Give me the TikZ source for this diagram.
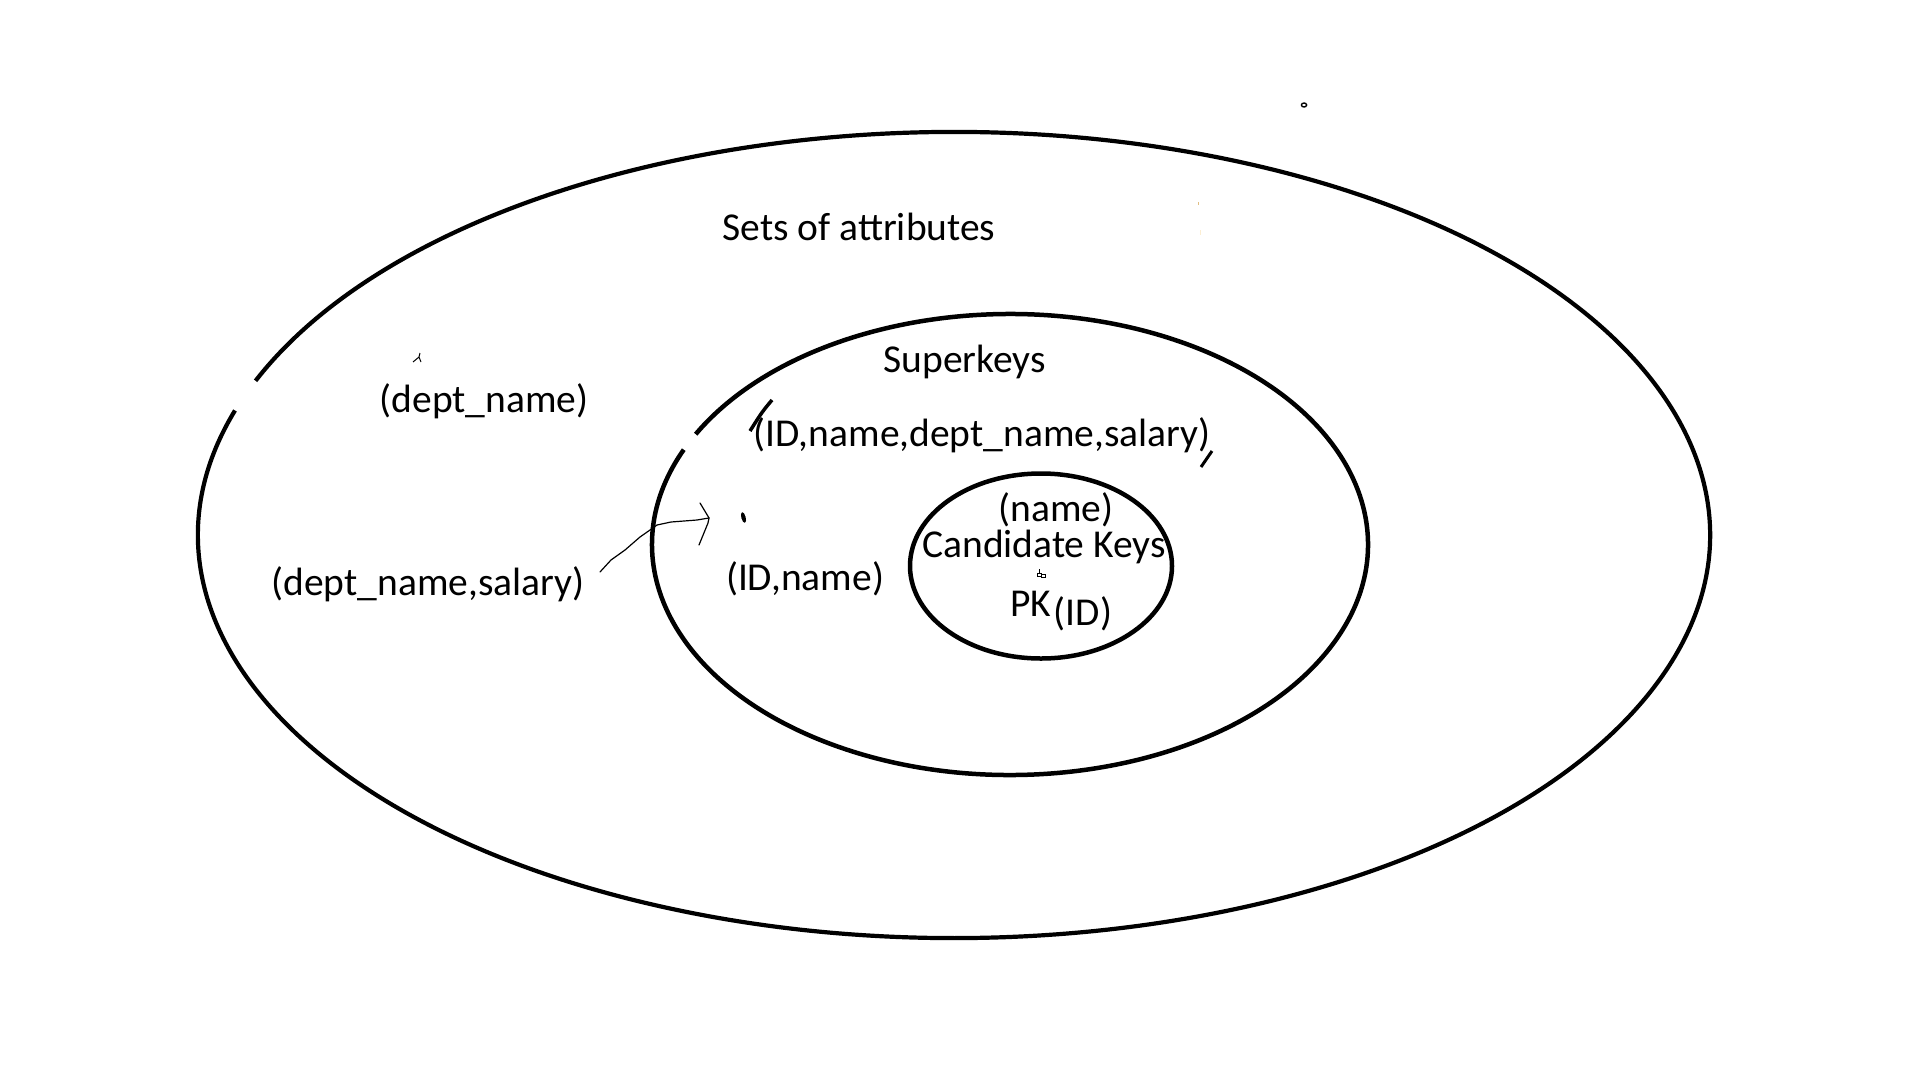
\documentclass[tikz,border=0pt]{standalone}
\usepackage{fontspec}
\setmainfont{Carlito}
\definecolor{stainA}{RGB}{225,190,130}
\definecolor{stainB}{RGB}{252,238,210}
\begin{document}
\begin{tikzpicture}[x=1pt,y=-1pt,
  ring/.style={line width=4.5pt},
  lbl/.style={inner sep=0pt, anchor=base, font=\fontsize{39.5}{47}\selectfont},
  scribble/.style={line width=1.2pt, line cap=round, line join=round},
  stroke/.style={line cap=butt}]
\useasboundingbox (0,0) rectangle (1932,1076);
\fill[white] (0,0) rectangle (1932,1076);

% outer ellipse: sets of attributes (small gap at upper left)
\draw[ring, line width=4.2pt] ([shift={(202.5:756 and 403)}]954,535)
  arc[start angle=202.5, end angle=558, x radius=756, y radius=403];
% superkeys ellipse (small gap at upper left)
\draw[ring] ([shift={(208.6:358 and 230.5)}]1010,544.5)
  arc[start angle=208.6, end angle=564.3, x radius=358, y radius=230.5];
% candidate keys ellipse
\draw[ring] (1041,566) ellipse [x radius=131, y radius=92.5];

% labels
\node[lbl] (sets)  at (859,240)   {Sets of attributes};
\node[lbl] (super) at (964.5,372) {Superkeys};
\node[lbl] (dn)    at (484,412)   {(dept\_name)};
\node[lbl] (full)  at (982,446)   {(ID,name,dept\_name,salary)};
\node[lbl] (dns)   at (428,595)   {(dept\_name,salary)};
\node[lbl] (idn)   at (805,590)   {(ID,name)};
\node[lbl] (nm)    at (1056,521)  {(name)};
\node[lbl] (ck)    at (1044,557)  {Candidate Keys};
\node[lbl] (pk)    at (1031,616)  {PK};
\node[lbl] (id)    at (1083,625)  {(ID)};

% hand-drawn arrow
\coordinate (a0) at (600,572);
\coordinate (a1) at (709,518);
\draw[scribble] (a0) -- (611,560) -- (625,550) -- (640,537) -- (650,530)
  -- (657,525) -- (671,522) -- (697,520) -- (a1);
\draw[scribble] (700,503) -- (a1) -- (708,523) -- (699,545);

% stray strokes and marks
\draw[stroke, line width=3.5pt] (772,400) .. controls (762,412) .. (750,431);
\draw[stroke, line width=3pt] (1212,451) -- (1201,467);
\draw[line width=1pt] (413,362) -- (419,357) -- (420,353) (419,357) -- (421,362);
\fill[rotate around={15:(743.5,517.5)}] (743.5,517.5) ellipse [x radius=2.2, y radius=5.5];
\draw[line width=1.4pt] (1304,105) ellipse [x radius=2.6, y radius=2];
\draw[line width=0.8pt] (1039,569) -- (1039,573) (1037,573) rectangle (1041,576) (1041,574) rectangle (1045,577);
\fill[stainA] (1197.5,202) rectangle (1199,204.5);
\fill[stainB] (1199.5,230) rectangle (1200.5,235);
\end{tikzpicture}
\end{document}
